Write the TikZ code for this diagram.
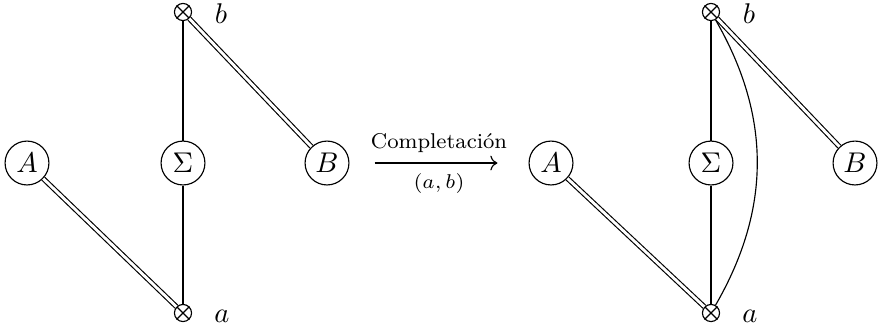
\documentclass[tikz,border=0pt]{standalone}
\usetikzlibrary{arrows.meta}
\tikzset{
  vtx/.style={circle,draw,inner sep=1pt,minimum size=15.4pt},
  cx/.style={circle,draw,minimum size=6pt,inner sep=0pt},
  dbl/.style={double,double distance=1pt},
  lbl/.style={inner sep=0pt},
  arlbl/.style={font=\fontsize{7.5}{9}\selectfont}
}
\begin{document}
\begin{tikzpicture}[x=0.3509pt,y=-0.3509pt]
\useasboundingbox (0,0) rectangle (883,330);
% left diagram
\node[vtx] (A1) at (27,163) {$A$};
\node[vtx] (S1) at (183,163) {$\Sigma$};
\node[vtx] (B1) at (327,163) {$B$};
\node[cx] (b1) at (183,12) {};
\node[cx] (a1) at (183,313) {};
\draw (b1.north west) -- (b1.south east) (b1.north east) -- (b1.south west);
\draw (a1.north west) -- (a1.south east) (a1.north east) -- (a1.south west);
\node[lbl] (lb1) at (221,14) {$b$};
\node[lbl] (la1) at (222,316) {$a$};
\draw[dbl] (A1) -- (a1);
\draw (S1) -- (a1);
\draw (S1) -- (b1);
\draw[dbl] (b1) -- (B1);
% right diagram
\node[vtx] (A2) at (551,163) {$A$};
\node[vtx] (S2) at (711,163) {$\Sigma$};
\node[vtx] (B2) at (855,163) {$B$};
\node[cx] (b2) at (711,12) {};
\node[cx] (a2) at (711,313) {};
\draw (b2.north west) -- (b2.south east) (b2.north east) -- (b2.south west);
\draw (a2.north west) -- (a2.south east) (a2.north east) -- (a2.south west);
\node[lbl] (lb2) at (749,14) {$b$};
\node[lbl] (la2) at (750,316) {$a$};
\draw[dbl] (A2) -- (a2);
\draw (S2) -- (a2);
\draw (S2) -- (b2);
\draw[dbl] (b2) -- (B2);
\draw (b2) to[bend left=30] (a2);
% arrow
\draw[-{To}, shorten <=8.8pt, shorten >=10.9pt] (B1) -- (A2)
  node[midway,above,arlbl] {Completación}
  node[midway,below,arlbl] {$(a,b)$};
\end{tikzpicture}
\end{document}
